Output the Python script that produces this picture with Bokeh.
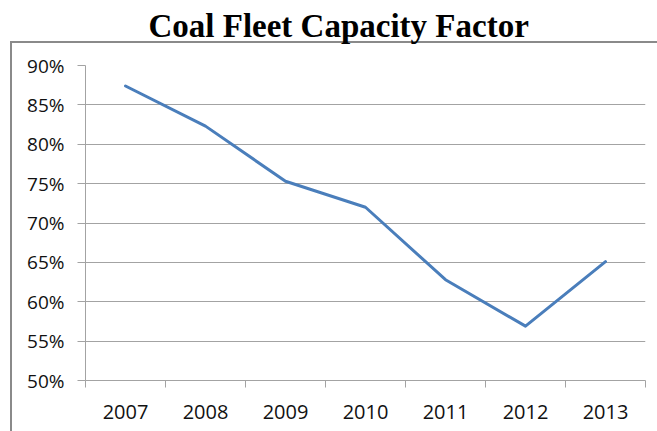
from bokeh.plotting import figure
from bokeh.models import Range1d, FixedTicker, PrintfTickFormatter
from bokeh.embed import file_html
from bokeh.resources import INLINE

# Coal fleet capacity factor by year (percent)
years = ["2007", "2008", "2009", "2010", "2011", "2012", "2013"]
capacity_factor = [87.4, 82.3, 75.3, 72.0, 62.8, 56.9, 65.1]
y_ticks = [50, 55, 60, 65, 70, 75, 80, 85, 90]
chart_title = "Coal Fleet Capacity Factor"

# each year occupies one unit-wide slot; points sit at the slot centres
centers = [i + 0.5 for i in range(len(years))]
bounds = [float(i) for i in range(len(years) + 1)]

GRID = "#a3a3a3"
BORDER = "#8a8a8a"
LABEL_FONT = "Open Sans"
SHIFT = 22  # canvas is raised by this much so the title can sit close to the top

p = figure(
    width=657, height=431 + SHIFT,
    x_range=Range1d(0, len(years)), y_range=Range1d(y_ticks[0], y_ticks[-1]),
    output_backend="svg", toolbar_location=None,
    min_border_left=85, min_border_right=12,
    min_border_top=65 + SHIFT, min_border_bottom=51,
)
p.outline_line_color = None
p.background_fill_color = "white"
p.border_fill_color = None

# chart border: left and top edges, drawn behind the transparent canvas margin
p.styles = {
    "margin-top": f"-{SHIFT}px",
    "background-color": "white",
    "background-image": f"linear-gradient({BORDER}, {BORDER}), linear-gradient({BORDER}, {BORDER})",
    "background-size": "2px 420px, 660px 2px",
    "background-position": f"10px {41 + SHIFT}px, 10px {41 + SHIFT}px",
    "background-repeat": "no-repeat",
}

p.title.text = chart_title
p.title.text_font = "Liberation Serif"
p.title.text_font_style = "bold"
p.title.text_font_size = "33px"
p.title.text_color = "#000000"
p.title.align = "left"
p.title.offset = 63
p.title.standoff = 44

p.line(centers, capacity_factor, line_color="#4a7ebb", line_width=3,
       line_join="round", line_cap="round")

# x axis: year labels centred, tick marks between years
xa = p.xaxis[0]
xa.ticker = FixedTicker(ticks=centers, minor_ticks=bounds)
xa.major_label_overrides = {c: y for c, y in zip(centers, years)}
xa.major_tick_line_color = None
xa.major_tick_in = 0
xa.major_tick_out = 0
xa.minor_tick_line_color = GRID
xa.minor_tick_in = 0
xa.minor_tick_out = 7
xa.axis_line_color = GRID
xa.major_label_text_font = LABEL_FONT
xa.major_label_text_font_size = "20px"
xa.major_label_text_color = "#111111"
xa.major_label_standoff = 17

ya = p.yaxis[0]
ya.ticker = FixedTicker(ticks=y_ticks, minor_ticks=[])
ya.formatter = PrintfTickFormatter(format="%d%%")
ya.axis_line_color = GRID
ya.major_tick_line_color = GRID
ya.major_tick_in = 0
ya.major_tick_out = 8
ya.minor_tick_line_color = None
ya.major_label_text_font = LABEL_FONT
ya.major_label_text_font_size = "19px"
ya.major_label_text_color = "#111111"
ya.major_label_standoff = 13

p.xgrid.grid_line_color = None
p.ygrid.ticker = FixedTicker(ticks=y_ticks)
p.ygrid.grid_line_color = GRID
p.ygrid.grid_line_width = 1

open("out.html", "w").write(file_html(p, INLINE))
